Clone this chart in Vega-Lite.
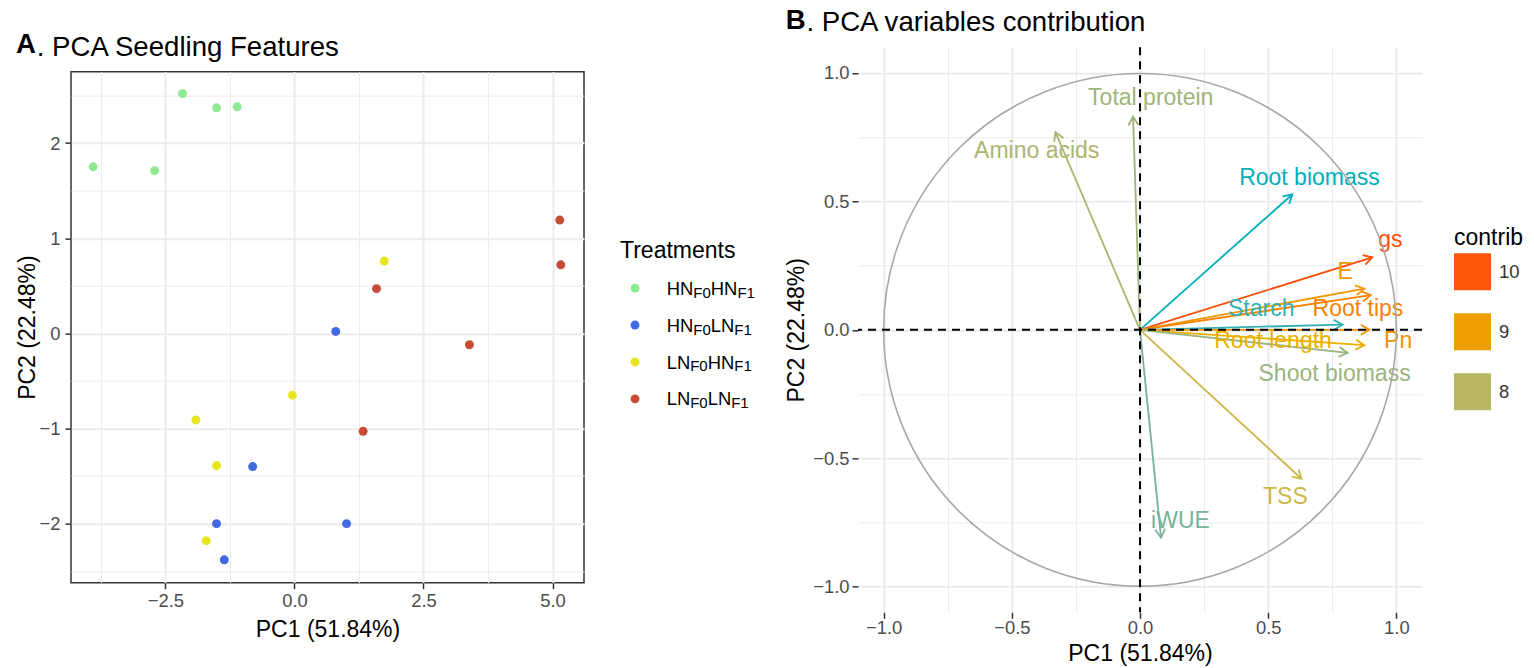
{
  "$schema": "https://vega.github.io/schema/vega-lite/v6.json",
  "padding": {"left": 15, "top": 6, "right": 5, "bottom": 0},
  "background": "white",
  "config": {
    "font": "Liberation Sans",
    "view": {"stroke": null},
    "legend": {"symbolType": "square", "symbolSize": 1369, "symbolStrokeWidth": 0, "rowPadding": 23},
    "axis": {
      "domain": false,
      "tickColor": "#333333",
      "tickWidth": 1.5,
      "tickSize": 6,
      "labelColor": "#4D4D4D",
      "labelFontSize": 18.4,
      "labelFont": "Liberation Sans",
      "titleFont": "Liberation Sans",
      "titleFontSize": 23,
      "titleFontWeight": "normal",
      "titleColor": "#000000",
      "gridColor": "#EBEBEB",
      "labelPadding": 3
    },
    "title": {"font": "Liberation Sans", "color": "#000000", "subtitleColor": "#000000", "subtitleFont": "Liberation Sans"}
  },
  "hconcat": [
    {
      "hconcat": [
        {
          "width": 513,
          "height": 511,
          "view": {"stroke": "#333333", "strokeWidth": 1.5},
          "title": {
            "text": "\u200b\u2002\u2005. PCA Seedling Features",
            "subtitle": "A",
            "anchor": "start",
            "fontSize": 27.6,
            "fontWeight": "normal",
            "subtitleFontSize": 27.6,
            "subtitleFontWeight": "bold",
            "subtitlePadding": -30,
            "offset": 8
          },
          "data": {
            "values": [
              {"PC1": -2.17, "PC2": 2.52, "Treatment": "HNF0HNF1"},
              {"PC1": -1.51, "PC2": 2.37, "Treatment": "HNF0HNF1"},
              {"PC1": -1.11, "PC2": 2.38, "Treatment": "HNF0HNF1"},
              {"PC1": -3.9, "PC2": 1.75, "Treatment": "HNF0HNF1"},
              {"PC1": -2.71, "PC2": 1.71, "Treatment": "HNF0HNF1"},
              {"PC1": 0.8, "PC2": 0.02, "Treatment": "HNF0LNF1"},
              {"PC1": -0.81, "PC2": -1.4, "Treatment": "HNF0LNF1"},
              {"PC1": -1.51, "PC2": -2.0, "Treatment": "HNF0LNF1"},
              {"PC1": 1.01, "PC2": -2.0, "Treatment": "HNF0LNF1"},
              {"PC1": -1.36, "PC2": -2.38, "Treatment": "HNF0LNF1"},
              {"PC1": 1.74, "PC2": 0.76, "Treatment": "LNF0HNF1"},
              {"PC1": -0.04, "PC2": -0.65, "Treatment": "LNF0HNF1"},
              {"PC1": -1.91, "PC2": -0.91, "Treatment": "LNF0HNF1"},
              {"PC1": -1.51, "PC2": -1.39, "Treatment": "LNF0HNF1"},
              {"PC1": -1.71, "PC2": -2.18, "Treatment": "LNF0HNF1"},
              {"PC1": 5.14, "PC2": 1.19, "Treatment": "LNF0LNF1"},
              {"PC1": 5.16, "PC2": 0.72, "Treatment": "LNF0LNF1"},
              {"PC1": 1.59, "PC2": 0.47, "Treatment": "LNF0LNF1"},
              {"PC1": 3.39, "PC2": -0.12, "Treatment": "LNF0LNF1"},
              {"PC1": 1.33, "PC2": -1.03, "Treatment": "LNF0LNF1"}
            ]
          },
          "mark": {"type": "circle", "size": 80, "opacity": 1},
          "encoding": {
            "x": {
              "field": "PC1", "type": "quantitative",
              "scale": {"domain": [-4.33, 5.61], "nice": false, "zero": false},
              "axis": {
                "title": "PC1 (51.84%)",
                "values": [-3.75, -2.5, -1.25, 0, 1.25, 2.5, 3.75, 5],
                "labelExpr": "datum.value % 2.5 === 0 ? format(datum.value, '.1f') : ''",
                "tickOpacity": {"condition": {"test": "datum.value % 2.5 === 0", "value": 1}, "value": 0},
                "gridWidth": {"condition": {"test": "datum.value % 2.5 === 0", "value": 2}, "value": 1},
                "titlePadding": 8
              }
            },
            "y": {
              "field": "PC2", "type": "quantitative",
              "scale": {"domain": [-2.62, 2.75], "nice": false, "zero": false},
              "axis": {
                "title": "PC2 (22.48%)",
                "values": [-2.5, -2, -1.5, -1, -0.5, 0, 0.5, 1, 1.5, 2, 2.5],
                "labelExpr": "datum.value % 1 === 0 ? format(datum.value, 'd') : ''",
                "tickOpacity": {"condition": {"test": "datum.value % 1 === 0", "value": 1}, "value": 0},
                "gridWidth": {"condition": {"test": "datum.value % 1 === 0", "value": 2}, "value": 1},
                "labelPadding": 5,
                "titlePadding": 0
              }
            },
            "color": {
              "field": "Treatment", "type": "nominal",
              "scale": {"domain": ["HNF0HNF1", "HNF0LNF1", "LNF0HNF1", "LNF0LNF1"], "range": ["#90E890", "#4169E1", "#E6E620", "#C64B36"]},
              "legend": null
            }
          }
        },
        {
          "width": 30,
          "height": 174,
          "title": {"text": "Treatments", "anchor": "start", "fontSize": 23, "fontWeight": "normal", "offset": 7},
          "data": {
            "values": [
              {"Treatment": "HNF0HNF1", "a": "HN", "b": "HN"},
              {"Treatment": "HNF0LNF1", "a": "HN", "b": "LN"},
              {"Treatment": "LNF0HNF1", "a": "LN", "b": "HN"},
              {"Treatment": "LNF0LNF1", "a": "LN", "b": "LN"}
            ]
          },
          "encoding": {
            "y": {
              "field": "Treatment", "type": "nominal",
              "scale": {"type": "point", "padding": 0, "domain": ["HNF0HNF1", "HNF0LNF1", "LNF0HNF1", "LNF0LNF1"], "range": [18.45, 129.15]},
              "axis": null
            }
          },
          "layer": [
            {
              "mark": {"type": "circle", "size": 80, "opacity": 1},
              "encoding": {
                "color": {
                  "field": "Treatment", "type": "nominal",
                  "scale": {"domain": ["HNF0HNF1", "HNF0LNF1", "LNF0HNF1", "LNF0LNF1"], "range": ["#90E890", "#4169E1", "#E6E620", "#C64B36"]},
                  "legend": null
                }
              }
            },
            {
              "mark": {"type": "text", "align": "left", "baseline": "alphabetic", "dx": 31.7, "dy": 6.6, "fontSize": 18.4, "color": "#000000"},
              "encoding": {"text": {"field": "a"}}
            },
            {
              "transform": [{"filter": "datum.a === 'HN'"}],
              "mark": {"type": "text", "align": "left", "baseline": "alphabetic", "dx": 58.3, "dy": 9.5, "fontSize": 15, "color": "#000000", "text": "F0"},
              "encoding": {}
            },
            {
              "transform": [{"filter": "datum.a === 'LN'"}],
              "mark": {"type": "text", "align": "left", "baseline": "alphabetic", "dx": 55.2, "dy": 9.5, "fontSize": 15, "color": "#000000", "text": "F0"},
              "encoding": {}
            },
            {
              "transform": [{"filter": "datum.a === 'HN'"}],
              "mark": {"type": "text", "align": "left", "baseline": "alphabetic", "dx": 75.8, "dy": 6.6, "fontSize": 18.4, "color": "#000000"},
              "encoding": {"text": {"field": "b"}}
            },
            {
              "transform": [{"filter": "datum.a === 'LN'"}],
              "mark": {"type": "text", "align": "left", "baseline": "alphabetic", "dx": 72.7, "dy": 6.6, "fontSize": 18.4, "color": "#000000"},
              "encoding": {"text": {"field": "b"}}
            },
            {
              "transform": [{"filter": "datum.a === 'HN' && datum.b === 'HN'"}],
              "mark": {"type": "text", "align": "left", "baseline": "alphabetic", "dx": 102.4, "dy": 9.5, "fontSize": 15, "color": "#000000", "text": "F1"},
              "encoding": {}
            },
            {
              "transform": [{"filter": "datum.a !== datum.b"}],
              "mark": {"type": "text", "align": "left", "baseline": "alphabetic", "dx": 99.3, "dy": 9.5, "fontSize": 15, "color": "#000000", "text": "F1"},
              "encoding": {}
            },
            {
              "transform": [{"filter": "datum.a === 'LN' && datum.b === 'LN'"}],
              "mark": {"type": "text", "align": "left", "baseline": "alphabetic", "dx": 96.2, "dy": 9.5, "fontSize": 15, "color": "#000000", "text": "F1"},
              "encoding": {}
            }
          ]
        }
      ],
      "spacing": 35,
      "center": true
    },
    {
      "width": 564,
      "height": 565,
      "title": {
        "text": "\u200b\u2002\u2005. PCA variables contribution",
        "subtitle": "B",
        "anchor": "start",
        "fontSize": 27.6,
        "fontWeight": "normal",
        "subtitleFontSize": 27.6,
        "subtitleFontWeight": "bold",
        "subtitlePadding": -30,
        "offset": 7
      },
      "data": {
        "values": [
          {"variable": "Total protein", "x": -0.027, "y": 0.83, "lx": 0.042, "ly": 0.903, "contrib": 7.73},
          {"variable": "Amino acids", "x": -0.33, "y": 0.77, "lx": -0.403, "ly": 0.697, "contrib": 7.87},
          {"variable": "Root biomass", "x": 0.594, "y": 0.527, "lx": 0.661, "ly": 0.593, "contrib": 7.03},
          {"variable": "gs", "x": 0.906, "y": 0.282, "lx": 0.977, "ly": 0.348, "contrib": 10.09},
          {"variable": "E", "x": 0.875, "y": 0.16, "lx": 0.8, "ly": 0.224, "contrib": 9.11},
          {"variable": "Root tips", "x": 0.9, "y": 0.135, "lx": 0.85, "ly": 0.082, "contrib": 9.44},
          {"variable": "Starch", "x": 0.79, "y": 0.02, "lx": 0.473, "ly": 0.082, "contrib": 7.1},
          {"variable": "Pn", "x": 0.895, "y": 0.0, "lx": 1.007, "ly": -0.044, "contrib": 9.2},
          {"variable": "Root length", "x": 0.875, "y": -0.06, "lx": 0.519, "ly": -0.044, "contrib": 8.7},
          {"variable": "Shoot biomass", "x": 0.81, "y": -0.09, "lx": 0.759, "ly": -0.173, "contrib": 7.7},
          {"variable": "TSS", "x": 0.63, "y": -0.58, "lx": 0.567, "ly": -0.652, "contrib": 8.22},
          {"variable": "iWUE", "x": 0.082, "y": -0.81, "lx": 0.158, "ly": -0.744, "contrib": 7.43}
        ]
      },
      "layer": [
        {
          "mark": {"type": "rule", "strokeWidth": 1.8},
          "encoding": {
            "x": {
              "field": "x", "type": "quantitative",
              "scale": {"domain": [-1.1, 1.1], "nice": false, "zero": false},
              "axis": {
                "title": "PC1 (51.84%)",
                "values": [-1, -0.75, -0.5, -0.25, 0, 0.25, 0.5, 0.75, 1],
                "labelExpr": "datum.value % 0.5 === 0 ? format(datum.value, '.1f') : ''",
                "tickOpacity": {"condition": {"test": "datum.value % 0.5 === 0", "value": 1}, "value": 0},
                "gridWidth": {"condition": {"test": "datum.value % 0.5 === 0", "value": 2}, "value": 1},
                "titlePadding": 6,
                "labelPadding": 0
              }
            },
            "y": {
              "field": "y", "type": "quantitative",
              "scale": {"domain": [-1.1, 1.1], "nice": false, "zero": false},
              "axis": {
                "title": "PC2 (22.48%)",
                "values": [-1, -0.75, -0.5, -0.25, 0, 0.25, 0.5, 0.75, 1],
                "labelExpr": "datum.value % 0.5 === 0 ? format(datum.value, '.1f') : ''",
                "tickOpacity": {"condition": {"test": "datum.value % 0.5 === 0", "value": 1}, "value": 0},
                "gridWidth": {"condition": {"test": "datum.value % 0.5 === 0", "value": 2}, "value": 1},
                "titlePadding": 4
              }
            },
            "x2": {"datum": 0},
            "y2": {"datum": 0},
            "color": {
              "field": "contrib", "type": "quantitative",
              "scale": {"domain": [7.03, 8.56, 10.09], "range": ["#00AFBB", "#E7B800", "#FC4E07"], "interpolate": "lab"},
              "legend": {
                "title": "contrib",
                "orient": "none",
                "legendX": 596,
                "legendY": 180,
                "values": [10, 9, 8],
                "format": "d",
                "symbolType": "square",
                "symbolSize": 1369,
                "symbolStrokeWidth": 0,
                "symbolOpacity": 1,
                "rowPadding": 23,
                "titleFontSize": 23,
                "titleFontWeight": "normal",
                "titleColor": "#000000",
                "titlePadding": 3,
                "labelFontSize": 18.4,
                "labelColor": "#333333",
                "labelOffset": 8
              }
            }
          }
        },
        {
          "transform": [{"calculate": "90 - atan2(datum.y, datum.x) * 180 / PI", "as": "heading"}],
          "mark": {"type": "point", "shape": "M-0.5,0.866L0,0L0.5,0.866", "filled": false, "size": 400, "strokeWidth": 1.8, "opacity": 1},
          "encoding": {
            "x": {"field": "x", "type": "quantitative"},
            "y": {"field": "y", "type": "quantitative"},
            "angle": {"field": "heading", "type": "quantitative", "scale": null},
            "color": {"field": "contrib", "type": "quantitative"}
          }
        },
        {
          "mark": {"type": "text", "fontSize": 23, "align": "center", "baseline": "middle"},
          "encoding": {
            "x": {"field": "lx", "type": "quantitative"},
            "y": {"field": "ly", "type": "quantitative"},
            "text": {"field": "variable"},
            "color": {"field": "contrib", "type": "quantitative"}
          }
        },
        {
          "data": {"values": [{"r": 1}]},
          "mark": {"type": "arc", "filled": false, "stroke": "#A8A8A8", "strokeWidth": 1.6},
          "encoding": {
            "theta": {"field": "r", "type": "quantitative"},
            "radius": {"field": "r", "type": "quantitative", "scale": {"type": "linear", "domain": [0, 1.1], "range": [0, 282], "zero": true}}
          }
        },
        {
          "data": {"values": [{"v": 0}]},
          "mark": {"type": "rule", "color": "#000000", "strokeWidth": 2, "strokeDash": [8, 6]},
          "encoding": {"y": {"field": "v", "type": "quantitative"}}
        },
        {
          "data": {"values": [{"v": 0}]},
          "mark": {"type": "rule", "color": "#000000", "strokeWidth": 2, "strokeDash": [8, 6]},
          "encoding": {"x": {"field": "v", "type": "quantitative"}}
        }
      ]
    }
  ],
  "spacing": 30,
  "center": true
}
